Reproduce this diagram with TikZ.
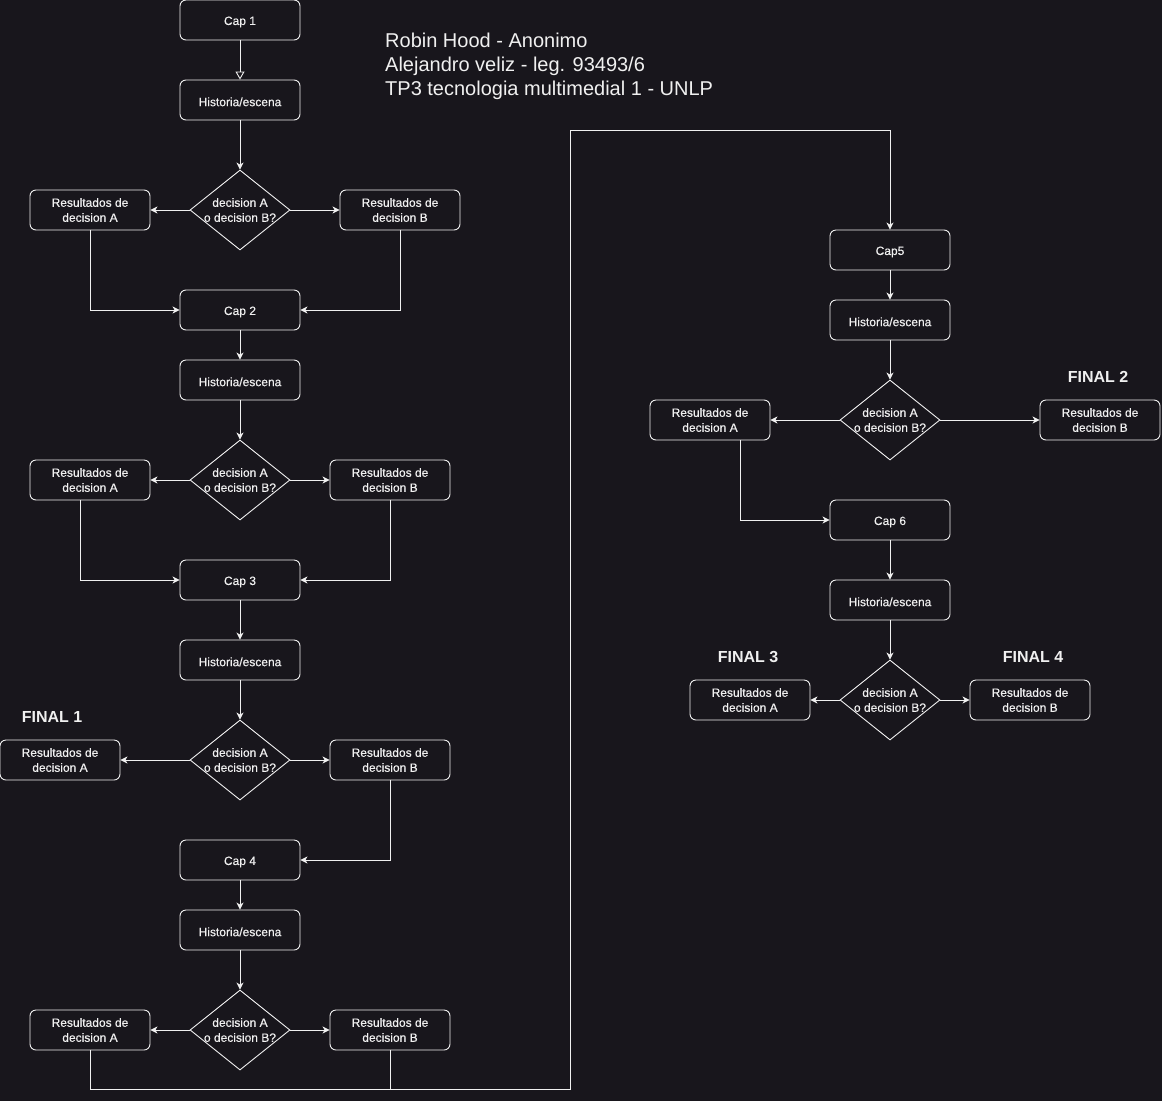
\documentclass[tikz,border=0pt]{standalone}
\usepackage{fontspec}
\setmainfont{Liberation Sans}
\newfontfamily\boxfont{Liberation Sans}[FakeBold=0.5]
\usetikzlibrary{shapes.geometric,arrows.meta}
\definecolor{bg}{RGB}{24,22,28}
\definecolor{fg}{RGB}{240,240,240}

\begin{document}
\begin{tikzpicture}[x=1pt,y=-1pt,
  every node/.style={text=fg},
  box/.style={draw=fg, fill=bg, line width=0.9pt, rounded corners=6pt,
    minimum width=120pt, minimum height=40pt, inner sep=0pt, align=center,
    font=\boxfont\fontsize{12}{15}\selectfont,
    execute at begin node={\rule{0pt}{12.4pt}}},
  dtext/.style={align=center, font=\boxfont\fontsize{12}{15}\selectfont,
    inner sep=0pt, text=fg, execute at begin node={\rule{0pt}{11.8pt}}},
  dec/.style={draw=fg, fill=bg, diamond, line width=0.9pt,
    minimum width=100pt, minimum height=80pt, inner sep=0pt,
    label={[dtext]center:{decision A\\o decision B?}}},
  final/.style={font=\bfseries\fontsize{16}{19}\selectfont, inner sep=0pt},
  title/.style={align=left, font=\fontsize{20}{24}\selectfont, inner sep=0pt},
  arr/.style={draw=fg, line width=0.9pt, -{Stealth[length=7pt,width=7pt,inset=2pt]}},
  openarr/.style={draw=fg, line width=0.9pt, -{Triangle[open,length=8pt,width=9pt]}},
  link/.style={draw=fg, line width=0.9pt},
]
% canvas
\fill[bg] (0,0) rectangle (1162,1101);
\useasboundingbox (0,0) rectangle (1162,1101);

% heading
\node[title, anchor=north west] (head) at (385,32.5)
  {Robin Hood - Anonimo\\Alejandro veliz - leg. 93493/6\\TP3 tecnologia multimedial 1 - UNLP};

% ---- chapter 1 ----
\node[box] (cap1) at (240,20) {Cap 1};
\node[box] (h1) at (240,100) {Historia/escena};
\node[dec] (d1) at (240,210) {};
\node[box] (a1) at (90,210) {Resultados de\\decision A};
\node[box] (b1) at (400,210) {Resultados de\\decision B};

% ---- chapter 2 ----
\node[box] (cap2) at (240,310) {Cap 2};
\node[box] (h2) at (240,380) {Historia/escena};
\node[dec] (d2) at (240,480) {};
\node[box] (a2) at (90,480) {Resultados de\\decision A};
\node[box] (b2) at (390,480) {Resultados de\\decision B};

% ---- chapter 3 ----
\node[box] (cap3) at (240,580) {Cap 3};
\node[box] (h3) at (240,660) {Historia/escena};
\node[dec] (d3) at (240,760) {};
\node[box] (a3) at (60,760) {Resultados de\\decision A};
\node[box] (b3) at (390,760) {Resultados de\\decision B};
\node[final] (f1) at (52,717) {FINAL 1};

% ---- chapter 4 ----
\node[box] (cap4) at (240,860) {Cap 4};
\node[box] (h4) at (240,930) {Historia/escena};
\node[dec] (d4) at (240,1030) {};
\node[box] (a4) at (90,1030) {Resultados de\\decision A};
\node[box] (b4) at (390,1030) {Resultados de\\decision B};

% ---- chapter 5 ----
\node[box] (cap5) at (890,250) {Cap5};
\node[box] (h5) at (890,320) {Historia/escena};
\node[dec] (d5) at (890,420) {};
\node[box] (a5) at (710,420) {Resultados de\\decision A};
\node[box] (b5) at (1100,420) {Resultados de\\decision B};
\node[final] (f2) at (1098,377) {FINAL 2};

% ---- chapter 6 ----
\node[box] (cap6) at (890,520) {Cap 6};
\node[box] (h6) at (890,600) {Historia/escena};
\node[dec] (d6) at (890,700) {};
\node[box] (a6) at (750,700) {Resultados de\\decision A};
\node[box] (b6) at (1030,700) {Resultados de\\decision B};
\node[final] (f3) at (748,657) {FINAL 3};
\node[final] (f4) at (1033,657) {FINAL 4};

% ---- connectors ----
\draw[openarr] (cap1) -- (h1);
\draw[arr] (h1) -- (d1);
\draw[arr] (d1) -- (a1);
\draw[arr] (d1) -- (b1);
\draw[arr] (a1.south) |- (cap2.west);
\draw[arr] (b1.south) |- (cap2.east);

\draw[arr] (cap2) -- (h2);
\draw[arr] (h2) -- (d2);
\draw[arr] (d2) -- (a2);
\draw[arr] (d2) -- (b2);
\draw[arr] ([xshift=-10pt]a2.south) |- (cap3.west);
\draw[arr] (b2.south) |- (cap3.east);

\draw[arr] (cap3) -- (h3);
\draw[arr] (h3) -- (d3);
\draw[arr] (d3) -- (a3);
\draw[arr] (d3) -- (b3);
\draw[arr] (b3.south) |- (cap4.east);

\draw[arr] (cap4) -- (h4);
\draw[arr] (h4) -- (d4);
\draw[arr] (d4) -- (a4);
\draw[arr] (d4) -- (b4);

% long return path to chapter 5
\coordinate (j1) at (570,1089);
\coordinate (j2) at (570,130);
\draw[arr] (a4.south) |- (j1) -- (j2) -| (cap5.north);
\draw[link] (b4.south) -- (b4.south |- j1);

\draw[arr] (cap5) -- (h5);
\draw[arr] (h5) -- (d5);
\draw[arr] (d5) -- (a5);
\draw[arr] (d5) -- (b5);
\draw[arr] ([xshift=30pt]a5.south) |- (cap6.west);

\draw[arr] (cap6) -- (h6);
\draw[arr] (h6) -- (d6);
\draw[arr] (d6) -- (a6);
\draw[arr] (d6) -- (b6);
\end{tikzpicture}
\end{document}
